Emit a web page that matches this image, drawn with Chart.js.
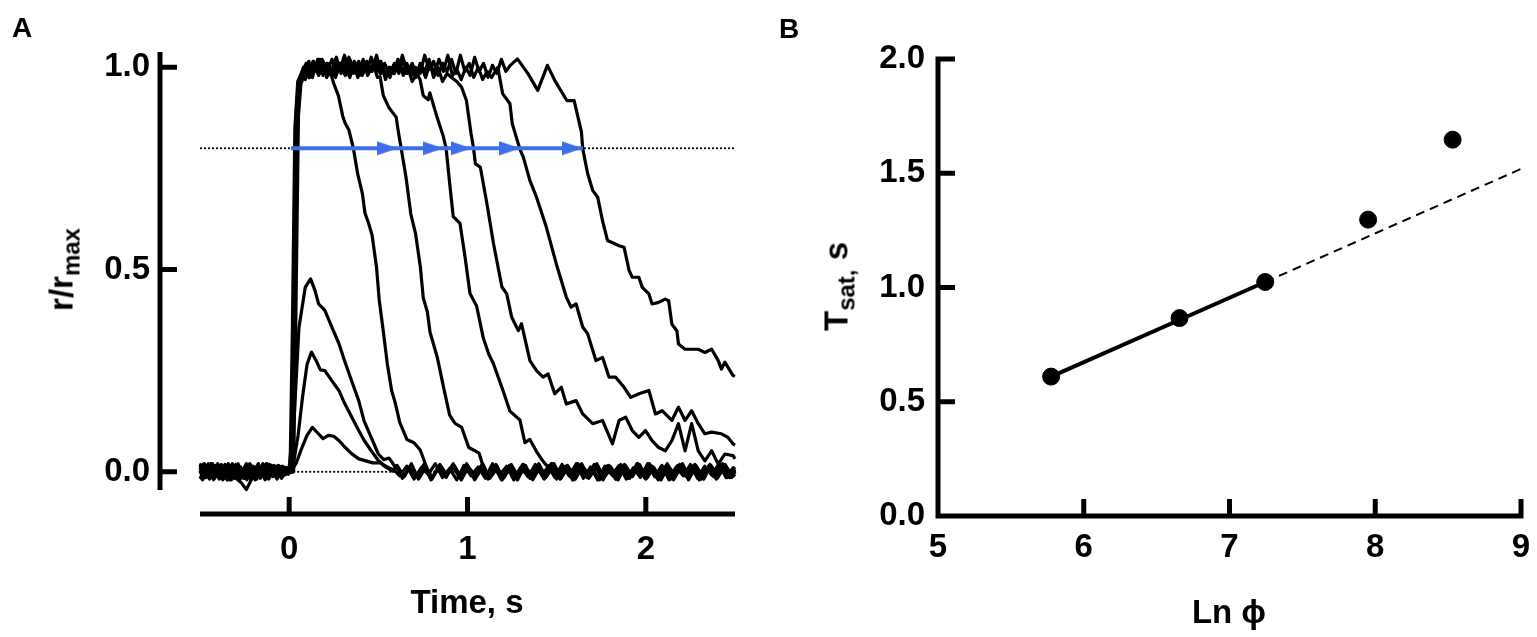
<!DOCTYPE html>
<html>
<head>
<meta charset="utf-8">
<title>Photoresponse saturation time</title>
<script src="https://cdn.jsdelivr.net/npm/chart.js@4.4.1/dist/chart.umd.min.js"></script>
<style>
  html, body { margin: 0; padding: 0; background: #fff; }
  body { position: relative; width: 1537px; height: 637px; overflow: hidden; }
  canvas { position: absolute; top: 0; }
  #chartA { left: 0; }
  #chartB { left: 768px; }
  .txt { position: absolute; font: bold 33px "Liberation Sans", Arial, sans-serif; line-height: 1; color: #000; white-space: nowrap; }
  .txt sub { font-size: 24px; vertical-align: -7px; line-height: 0; }
  .panel { font-size: 28px; }
  .center { width: 300px; text-align: center; }
  .rot { width: 200px; height: 33px; text-align: center; transform: rotate(-90deg); }
</style>
</head>
<body>
<canvas id="chartA" width="768" height="637"></canvas>
<canvas id="chartB" width="769" height="637"></canvas>
<div class="txt panel" style="left:12px;top:14px">A</div>
<div class="txt panel" style="left:779px;top:15px">B</div>
<div class="txt center" style="left:317px;top:585px">Time, s</div>
<div class="txt center" style="left:1079px;top:595px">Ln ϕ</div>
<div class="txt rot" style="left:-39px;top:253px">r/r<sub>max</sub></div>
<div class="txt rot" style="left:736px;top:270px">T<sub>sat,</sub> s</div>

<script>
// Panel A - normalised responses to flashes of increasing strength
const xRangeA = [-0.5, 2.5];
const yRangeA = [-0.045, 1.038];
const xTicksA = [0, 1, 2];
const yTicksA = [0, 0.5, 1];
const satLevel = 0.8;     // criterion level used for T_sat
const flashTime = 0.01;   // start of the blue arrows

// [time s, r/rmax]
const trace1 = [
  [-0.500,0.016],[-0.465,-0.014],[-0.430,0.020],[-0.395,-0.010],[-0.360,0.018],[-0.325,-0.020],[-0.290,0.008],
  [-0.255,-0.016],[-0.220,0.020],[-0.185,-0.008],[-0.150,0.014],[-0.115,-0.018],[-0.080,0.012],[-0.045,-0.014],[-0.010,0.006],
  [0.01,0.000],[0.04,0.022],[0.07,0.058],[0.10,0.090],[0.13,0.110],[0.16,0.096],[0.19,0.082],[0.22,0.090],
  [0.25,0.088],[0.28,0.077],[0.31,0.062],[0.35,0.045],[0.39,0.032],[0.43,0.027],[0.47,0.022],[0.51,0.022],
  [0.55,0.012],[0.59,0.004],
  [0.62,-0.010],[0.66,0.014],[0.70,-0.018],[0.74,0.010],[0.78,-0.006],[0.82,0.020],[0.86,-0.014],[0.90,0.008],
  [0.94,-0.020],[0.98,0.016],[1.02,-0.010],[1.06,0.012],[1.10,-0.016],[1.14,0.020],[1.18,-0.008],[1.22,0.014],
  [1.26,-0.020],[1.30,0.010],[1.34,-0.012],[1.38,0.018],[1.42,-0.006],[1.46,0.016],[1.50,-0.018],[1.54,0.012],
  [1.58,-0.014],[1.62,0.020],[1.66,-0.010],[1.70,0.008],[1.74,-0.020],[1.78,0.014],[1.82,-0.012],[1.86,0.018],
  [1.90,-0.016],[1.94,0.010],[1.98,-0.008],[2.02,0.020],[2.06,-0.014],[2.10,0.012],[2.14,-0.018],[2.18,0.016],
  [2.22,-0.010],[2.26,0.014],[2.30,-0.020],[2.34,0.008],[2.38,-0.012],[2.42,0.018],[2.46,-0.014],[2.50,0.006]
];
const trace2 = [
  [-0.500,0.004],[-0.488,-0.012],[-0.453,0.020],[-0.418,-0.016],[-0.383,0.014],[-0.348,-0.020],[-0.313,0.012],[-0.278,-0.022],
  [-0.243,0.016],[-0.208,-0.010],[-0.173,0.020],[-0.138,-0.014],[-0.103,0.012],[-0.068,-0.018],[-0.033,0.010],
  [0.02,0.010],[0.05,0.090],[0.075,0.185],[0.10,0.265],[0.125,0.296],[0.15,0.276],[0.175,0.252],[0.20,0.250],
  [0.24,0.225],[0.28,0.200],[0.31,0.170],[0.35,0.136],[0.39,0.102],[0.42,0.078],[0.46,0.052],[0.50,0.028],
  [0.54,0.012],[0.58,0.002],
  [0.605,0.016],[0.645,-0.012],[0.685,0.020],[0.725,-0.018],[0.765,0.010],[0.805,-0.014],[0.845,0.018],[0.885,-0.008],
  [0.925,0.014],[0.965,-0.020],[1.005,0.012],[1.045,-0.010],[1.085,0.020],[1.125,-0.016],[1.165,0.008],[1.205,-0.014],
  [1.245,0.018],[1.285,-0.012],[1.325,0.016],[1.365,-0.020],[1.405,0.010],[1.445,-0.008],[1.485,0.020],[1.525,-0.016],
  [1.565,0.012],[1.605,-0.018],[1.645,0.014],[1.685,-0.010],[1.725,0.020],[1.765,-0.014],[1.805,0.008],[1.845,-0.020],
  [1.885,0.016],[1.925,-0.012],[1.965,0.018],[2.005,-0.016],[2.045,0.010],[2.085,-0.020],[2.125,0.014],[2.165,-0.008],
  [2.205,0.020],[2.245,-0.014],[2.285,0.012],[2.325,-0.018],[2.365,0.016],[2.405,-0.010],[2.445,0.018],[2.485,-0.012],
  [2.50,0.000]
];
const trace3 = [
  [-0.500,0.010],[-0.477,0.020],[-0.442,-0.008],[-0.407,0.016],[-0.372,-0.020],[-0.337,0.010],[-0.302,-0.014],[-0.267,-0.028],
  [-0.240,-0.044],[-0.215,-0.022],[-0.197,0.008],[-0.162,-0.016],[-0.127,0.020],[-0.092,-0.012],[-0.057,0.014],[-0.022,-0.006],
  [0.00,0.010],[0.03,0.150],[0.055,0.357],[0.09,0.456],[0.12,0.477],[0.145,0.448],[0.165,0.415],[0.20,0.399],
  [0.24,0.357],[0.28,0.316],[0.31,0.275],[0.35,0.225],[0.39,0.176],[0.42,0.126],[0.46,0.085],[0.50,0.044],
  [0.53,0.030],[0.56,0.034],[0.59,0.015],[0.615,0.004],
  [0.635,-0.016],[0.675,0.010],[0.715,-0.012],[0.755,0.018],[0.795,-0.020],[0.835,0.012],[0.875,-0.008],[0.915,0.016],
  [0.955,-0.014],[0.995,0.020],[1.035,-0.010],[1.075,0.014],[1.115,-0.018],[1.155,0.008],[1.195,-0.020],[1.235,0.016],
  [1.275,-0.012],[1.315,0.018],[1.355,-0.016],[1.395,0.010],[1.435,-0.014],[1.475,0.020],[1.515,-0.008],[1.555,0.012],
  [1.595,-0.020],[1.635,0.016],[1.675,-0.010],[1.715,0.018],[1.755,-0.014],[1.795,0.012],[1.835,-0.018],[1.875,0.008],
  [1.915,-0.012],[1.955,0.020],[1.995,-0.016],[2.035,0.014],[2.075,-0.010],[2.115,0.016],[2.155,-0.020],[2.195,0.010],
  [2.235,-0.014],[2.275,0.018],[2.315,-0.012],[2.355,0.016],[2.395,-0.018],[2.435,0.010],[2.475,-0.008],[2.50,0.006]
];
const trace4 = [
  [-0.500,-0.016],[-0.459,0.012],[-0.424,-0.020],[-0.389,0.016],[-0.354,-0.010],[-0.319,0.020],[-0.284,-0.014],
  [-0.249,0.010],[-0.214,-0.020],[-0.179,0.016],[-0.144,-0.008],[-0.109,0.018],[-0.074,-0.012],[-0.039,0.014],[-0.004,-0.006],
  [0.005,0.000],[0.018,0.350],[0.032,0.850],[0.048,0.965],[0.07,0.985],[0.09,0.970],[0.11,1.000],[0.13,0.975],
  [0.15,1.005],[0.17,0.985],[0.19,1.010],[0.21,0.975],[0.23,0.990],[0.25,0.960],
  [0.276,0.930],[0.30,0.880],[0.314,0.862],[0.335,0.845],[0.36,0.800],[0.384,0.737],[0.411,0.687],[0.425,0.640],
  [0.445,0.615],[0.465,0.585],[0.49,0.505],[0.505,0.425],[0.53,0.340],[0.55,0.268],[0.575,0.200],[0.595,0.170],
  [0.62,0.122],[0.66,0.080],[0.70,0.072],[0.735,0.054],[0.77,0.012],
  [0.80,-0.018],[0.84,0.012],[0.88,-0.014],[0.92,0.020],[0.96,-0.010],[1.00,0.016],[1.04,-0.020],[1.08,0.008],
  [1.12,-0.012],[1.16,0.018],[1.20,-0.016],[1.24,0.010],[1.28,-0.020],[1.32,0.014],[1.36,-0.008],[1.40,0.020],
  [1.44,-0.014],[1.48,0.012],[1.52,-0.018],[1.56,0.016],[1.60,-0.010],[1.64,0.020],[1.68,-0.016],[1.72,0.010],
  [1.76,-0.020],[1.80,0.014],[1.84,-0.012],[1.88,0.018],[1.92,-0.008],[1.96,0.016],[2.00,-0.018],[2.04,0.012],
  [2.08,-0.014],[2.12,0.020],[2.16,-0.010],[2.20,0.012],[2.24,-0.020],[2.28,0.016],[2.32,-0.012],[2.36,0.018],
  [2.40,-0.016],[2.44,0.010],[2.48,-0.014],[2.50,-0.006]
];
const trace5 = [
  [-0.500,0.006],[-0.482,0.012],[-0.447,-0.018],[-0.412,0.016],[-0.377,-0.010],[-0.342,0.020],[-0.307,-0.016],[-0.272,0.012],
  [-0.237,-0.020],[-0.202,0.014],[-0.167,-0.012],[-0.132,0.018],[-0.097,-0.010],[-0.062,0.016],[-0.027,-0.008],
  [0.01,0.000],[0.024,0.400],[0.038,0.880],[0.054,0.970],[0.075,0.990],[0.095,1.010],[0.115,0.980],[0.135,1.015],
  [0.155,0.990],[0.175,1.020],[0.20,0.985],[0.22,1.005],[0.245,0.980],[0.27,1.015],[0.295,0.990],[0.32,1.020],
  [0.345,0.985],[0.37,1.010],[0.395,0.980],[0.42,1.005],[0.445,0.985],[0.47,1.010],[0.495,0.975],[0.51,0.977],
  [0.528,0.930],[0.56,0.900],[0.60,0.877],[0.614,0.836],[0.628,0.800],[0.655,0.729],[0.682,0.638],[0.709,0.588],
  [0.736,0.505],[0.752,0.430],[0.775,0.395],[0.79,0.345],[0.83,0.284],[0.87,0.200],[0.90,0.140],[0.93,0.120],
  [0.967,0.110],[1.007,0.060],[1.033,0.054],[1.065,0.046],[1.09,0.010],
  [1.11,-0.012],[1.15,0.016],[1.19,-0.020],[1.23,0.012],[1.27,-0.008],[1.31,0.018],[1.35,-0.016],[1.39,0.010],
  [1.43,-0.018],[1.47,0.020],[1.51,-0.012],[1.55,0.014],[1.59,-0.020],[1.63,0.008],[1.67,-0.014],[1.71,0.018],
  [1.75,-0.010],[1.79,0.016],[1.83,-0.018],[1.87,0.012],[1.91,-0.016],[1.95,0.020],[1.99,-0.008],[2.03,0.014],
  [2.07,-0.020],[2.11,0.010],[2.15,-0.014],[2.19,0.018],[2.23,-0.012],[2.27,0.016],[2.31,-0.018],[2.35,0.012],
  [2.39,-0.010],[2.43,0.020],[2.47,-0.014],[2.50,0.004]
];
const trace6 = [
  [-0.500,-0.004],[-0.471,0.018],[-0.436,-0.012],[-0.401,0.020],[-0.366,-0.016],[-0.331,0.008],[-0.296,0.016],[-0.261,-0.012],
  [-0.226,0.018],[-0.191,-0.020],[-0.156,0.010],[-0.121,-0.014],[-0.086,0.016],[-0.051,-0.010],[-0.016,0.008],
  [0.012,0.000],[0.028,0.500],[0.043,0.920],[0.06,0.975],[0.08,1.000],[0.10,0.980],[0.12,1.010],[0.14,0.990],
  [0.165,1.020],[0.19,0.980],[0.215,1.010],[0.24,0.990],[0.265,1.025],[0.29,0.985],[0.315,1.000],[0.34,0.975],
  [0.365,1.015],[0.39,0.990],[0.415,1.020],[0.44,0.980],[0.465,1.005],[0.49,0.990],[0.515,1.015],[0.54,0.970],
  [0.565,1.000],[0.59,0.985],[0.615,1.015],[0.64,0.980],[0.665,1.000],[0.69,0.965],[0.715,0.985],[0.734,0.970],
  [0.752,0.930],[0.78,0.920],[0.789,0.937],[0.827,0.880],[0.864,0.830],[0.88,0.800],[0.90,0.713],[0.92,0.631],
  [0.958,0.614],[0.986,0.532],[1.014,0.441],[1.051,0.410],[1.089,0.330],[1.12,0.290],[1.145,0.268],[1.20,0.200],
  [1.238,0.150],[1.294,0.128],[1.322,0.072],[1.35,0.080],[1.387,0.050],[1.425,0.025],[1.46,0.008],
  [1.49,-0.014],[1.53,0.018],[1.57,-0.010],[1.61,0.020],[1.65,-0.016],[1.69,0.012],[1.73,-0.020],[1.77,0.014],
  [1.81,-0.008],[1.85,0.016],[1.89,-0.018],[1.93,0.010],[1.97,-0.014],[2.01,0.020],[2.05,-0.012],[2.09,0.016],
  [2.13,-0.020],[2.17,0.012],[2.21,-0.010],[2.25,0.018],[2.29,-0.016],[2.33,0.014],[2.37,-0.008],[2.41,0.020],
  [2.45,-0.014],[2.49,0.010],[2.50,0.006]
];
const trace7 = [
  [-0.500,0.010],[-0.497,0.018],[-0.462,-0.010],[-0.427,0.014],[-0.392,-0.018],[-0.357,0.016],[-0.322,-0.008],[-0.287,0.020],
  [-0.252,-0.016],[-0.217,0.010],[-0.182,-0.018],[-0.147,0.020],[-0.112,-0.012],[-0.077,0.014],[-0.042,-0.016],[-0.007,0.010],
  [0.015,0.000],[0.03,0.450],[0.045,0.900],[0.06,0.970],[0.085,0.995],[0.11,0.975],[0.135,1.015],[0.16,0.990],
  [0.185,1.020],[0.21,0.985],[0.235,1.000],[0.26,0.975],[0.285,1.010],[0.31,0.990],[0.335,1.025],[0.36,0.985],
  [0.385,1.005],[0.41,0.980],[0.435,1.015],[0.46,0.990],[0.485,1.020],[0.51,0.985],[0.535,1.010],[0.56,0.980],
  [0.585,1.005],[0.61,0.990],[0.635,1.030],[0.66,0.985],[0.685,1.000],[0.71,0.975],[0.735,1.010],[0.76,0.990],
  [0.785,1.020],[0.81,0.975],[0.835,1.000],[0.86,0.965],[0.885,0.985],[0.91,0.975],[0.94,0.965],
  [0.967,0.951],[0.994,0.918],[1.02,0.836],[1.034,0.800],[1.044,0.762],[1.072,0.753],[1.109,0.663],[1.146,0.564],
  [1.193,0.457],[1.22,0.440],[1.248,0.382],[1.285,0.349],[1.303,0.366],[1.35,0.275],[1.387,0.250],[1.424,0.234],
  [1.452,0.242],[1.489,0.193],[1.526,0.209],[1.554,0.168],[1.609,0.176],[1.646,0.143],[1.702,0.119],[1.757,0.127],
  [1.813,0.069],[1.85,0.127],[1.887,0.135],[1.924,0.102],[1.961,0.085],[1.998,0.102],[2.035,0.077],[2.072,0.060],
  [2.109,0.052],[2.146,0.077],[2.183,0.119],[2.22,0.052],[2.257,0.119],[2.294,0.052],[2.331,0.027],[2.369,0.052],
  [2.406,0.019],[2.443,0.044],[2.489,0.040],[2.50,0.032]
];
const trace8 = [
  [-0.500,-0.012],[-0.485,-0.020],[-0.450,0.014],[-0.415,-0.008],[-0.380,0.018],[-0.345,-0.020],[-0.310,0.012],[-0.275,-0.010],
  [-0.240,0.020],[-0.205,-0.016],[-0.170,0.010],[-0.135,-0.020],[-0.100,0.016],[-0.065,-0.006],[-0.030,0.012],
  [0.02,0.000],[0.034,0.420],[0.048,0.890],[0.062,0.965],[0.085,0.990],[0.11,1.015],[0.135,0.985],[0.16,1.020],
  [0.185,0.990],[0.21,1.010],[0.235,0.980],[0.26,1.020],[0.285,0.995],[0.31,1.030],[0.335,0.990],[0.36,1.010],
  [0.385,0.975],[0.41,1.005],[0.435,0.990],[0.46,1.025],[0.485,0.995],[0.51,1.015],[0.535,0.980],[0.56,1.000],
  [0.585,0.985],[0.61,1.020],[0.635,0.990],[0.66,1.010],[0.685,0.980],[0.71,1.000],[0.735,0.985],[0.76,1.030],
  [0.785,0.995],[0.81,1.015],[0.835,0.980],[0.86,1.010],[0.885,0.990],[0.91,1.020],[0.935,0.985],[0.96,1.030],
  [0.985,0.990],[1.01,1.010],[1.035,0.975],[1.06,1.000],[1.085,0.970],[1.11,0.990],[1.135,0.975],[1.17,1.000],
  [1.197,0.935],[1.238,0.910],[1.251,0.861],[1.292,0.800],[1.313,0.778],[1.35,0.720],[1.387,0.679],[1.442,0.605],
  [1.498,0.514],[1.554,0.432],[1.581,0.407],[1.609,0.415],[1.646,0.358],[1.674,0.341],[1.72,0.275],[1.757,0.283],
  [1.794,0.234],[1.831,0.234],[1.878,0.209],[1.915,0.184],[1.961,0.193],[2.017,0.201],[2.054,0.143],[2.091,0.151],
  [2.146,0.127],[2.183,0.160],[2.22,0.127],[2.257,0.151],[2.294,0.119],[2.331,0.094],[2.369,0.098],[2.424,0.094],
  [2.461,0.085],[2.489,0.069],[2.50,0.066]
];
const trace9 = [
  [-0.500,0.010],[-0.474,-0.014],[-0.439,0.020],[-0.404,-0.012],[-0.369,0.010],[-0.334,-0.020],[-0.299,0.018],[-0.264,-0.008],
  [-0.229,0.016],[-0.194,-0.014],[-0.159,0.008],[-0.124,0.020],[-0.089,-0.010],[-0.054,0.014],[-0.019,-0.004],
  [0.025,0.000],[0.038,0.400],[0.052,0.880],[0.066,0.960],[0.09,0.985],[0.115,0.975],[0.14,1.005],[0.165,0.980],
  [0.19,1.015],[0.215,0.990],[0.24,1.020],[0.265,0.985],[0.29,1.000],[0.315,0.980],[0.34,1.020],[0.365,0.995],
  [0.39,1.015],[0.415,0.985],[0.44,1.010],[0.465,0.990],[0.49,1.030],[0.515,0.985],[0.54,1.005],[0.565,0.975],
  [0.59,1.010],[0.615,0.985],[0.64,1.020],[0.665,0.990],[0.69,1.010],[0.715,0.980],[0.74,1.005],[0.765,0.975],
  [0.79,1.010],[0.815,0.985],[0.84,1.020],[0.865,0.990],[0.89,1.030],[0.915,0.980],[0.94,0.995],[0.965,0.970],
  [0.99,1.000],[1.015,0.980],[1.04,1.025],[1.065,0.990],[1.09,1.010],[1.115,0.975],[1.14,1.005],[1.165,0.985],
  [1.19,1.020],[1.215,0.990],[1.24,1.005],[1.28,1.021],[1.34,0.984],[1.394,0.943],[1.448,1.005],[1.489,0.968],
  [1.557,0.918],[1.598,0.918],[1.639,0.840],[1.646,0.799],[1.674,0.737],[1.702,0.696],[1.730,0.679],[1.757,0.621],
  [1.785,0.572],[1.850,0.559],[1.878,0.555],[1.906,0.498],[1.924,0.481],[1.961,0.481],[1.980,0.456],[2.017,0.440],
  [2.035,0.415],[2.072,0.419],[2.109,0.427],[2.128,0.423],[2.146,0.365],[2.174,0.349],[2.183,0.316],[2.220,0.303],
  [2.294,0.303],[2.331,0.295],[2.369,0.303],[2.406,0.275],[2.424,0.254],[2.443,0.271],[2.489,0.238],[2.50,0.236]
];
const traces = [trace1, trace2, trace3, trace4, trace5, trace6, trace7, trace8, trace9];

// Panel B - time in saturation against ln of flash strength
const lnPhi = [5.776, 6.657, 7.245, 7.951, 8.531];
const tSat = [0.610, 0.866, 1.024, 1.297, 1.647];
const fitLnPhi = [5.776, 7.245, 9.0];
const fitTsat = [0.610, 1.024, 1.519];
const xTicksB = [5, 6, 7, 8, 9];
const yTicksB = [0, 0.5, 1, 1.5, 2];

const BLUE = '#3f6fe8';
const tickFont = { family: '"Liberation Sans", Arial, sans-serif', size: 33, weight: 'bold' };

Chart.defaults.animation = false;
Chart.defaults.font.family = tickFont.family;

// axis lines + inward ticks, optionally pushed away from the plot (Prism style)
const offsetAxes = {
  id: 'offsetAxes',
  afterDraw(chart, args, opts) {
    const { ctx, chartArea: a, scales: { x, y } } = chart;
    const ax = a.left - opts.gapY;
    const ay = a.bottom + opts.gapX;
    const ext = opts.corner ? opts.width / 2 : 0;
    ctx.save();
    ctx.strokeStyle = '#000';
    ctx.lineWidth = opts.width;
    ctx.lineCap = 'butt';
    ctx.beginPath();
    ctx.moveTo(ax, a.top - ext);
    ctx.lineTo(ax, a.bottom + ext);
    ctx.moveTo(a.left - ext, ay);
    ctx.lineTo(a.right + ext, ay);
    y.ticks.forEach(t => {
      const py = y.getPixelForValue(t.value);
      ctx.moveTo(ax, py);
      ctx.lineTo(ax + opts.tick, py);
    });
    x.ticks.forEach(t => {
      const px = x.getPixelForValue(t.value);
      ctx.moveTo(px, ay);
      ctx.lineTo(px, ay - opts.tick);
    });
    ctx.stroke();
    ctx.restore();
  }
};

// right-pointing arrowhead, tip at the centre of the image
const arrowHead = document.createElement('canvas');
arrowHead.width = 42;
arrowHead.height = 15;
(function () {
  const c = arrowHead.getContext('2d');
  c.fillStyle = BLUE;
  c.beginPath();
  c.moveTo(0, 0.5);
  c.lineTo(21, 7.5);
  c.lineTo(0, 14.5);
  c.closePath();
  c.fill();
})();

function axisOpts(range, ticks, fmt, pad, size, horizontal) {
  return {
    type: 'linear',
    min: range[0],
    max: range[1],
    afterBuildTicks: s => { s.ticks = ticks.map(v => ({ value: v })); },
    afterFit: s => {
      // fixed box sizes; label padding must not push the plot area around
      if (horizontal) { s.height = size; s.paddingLeft = 0; s.paddingRight = 0; }
      else { s.width = size; s.paddingTop = 0; s.paddingBottom = 0; }
    },
    ticks: { font: tickFont, color: '#000', padding: pad, callback: fmt },
    grid: { display: false, drawTicks: false },
    border: { display: false }
  };
}

const pts = arr => arr.map(([t, r]) => ({ x: t, y: r }));

new Chart(document.getElementById('chartA'), {
  type: 'line',
  data: {
    datasets: [
      ...traces.map(tr => ({
        data: pts(tr),
        borderColor: '#000',
        borderWidth: 3.2,
        borderJoinStyle: 'round',
        pointRadius: 0,
        tension: 0,
        clip: false,
        order: 5
      })),
      {
        data: [{ x: xRangeA[0], y: satLevel }, { x: xRangeA[1], y: satLevel }],
        borderColor: '#000', borderWidth: 1.8, borderDash: [2, 2], pointRadius: 0, order: 9
      },
      {
        data: [{ x: 0, y: 0 }, { x: xRangeA[1], y: 0 }],
        borderColor: '#000', borderWidth: 1.8, borderDash: [2, 2], pointRadius: 0, order: 9
      },
      {
        data: [{ x: flashTime, y: satLevel }, { x: Math.max(...tSat), y: satLevel }],
        borderColor: BLUE, borderWidth: 4, pointRadius: 0, order: 2
      },
      {
        data: tSat.map(t => ({ x: t, y: satLevel })),
        showLine: false, pointStyle: arrowHead, pointRadius: 8, order: 1
      }
    ]
  },
  options: {
    responsive: false,
    layout: { padding: { left: 0, right: 33, top: 52, bottom: 0 } },
    plugins: {
      legend: { display: false },
      tooltip: { enabled: false },
      offsetAxes: { gapX: 24, gapY: 40, width: 5, tick: 17, corner: false }
    },
    scales: {
      x: axisOpts(xRangeA, xTicksA, v => String(v), 40, 147, true),
      y: axisOpts(yRangeA, yTicksA, v => v.toFixed(1), 50, 200, false)
    }
  },
  plugins: [offsetAxes]
});

new Chart(document.getElementById('chartB'), {
  type: 'scatter',
  data: {
    datasets: [
      {
        data: lnPhi.map((v, i) => ({ x: v, y: tSat[i] })),
        backgroundColor: '#000', borderColor: '#000', pointRadius: 8.5, order: 1
      },
      {
        data: [{ x: fitLnPhi[0], y: fitTsat[0] }, { x: fitLnPhi[1], y: fitTsat[1] }],
        showLine: true, borderColor: '#000', borderWidth: 4, pointRadius: 0, order: 2
      },
      {
        data: [{ x: fitLnPhi[1], y: fitTsat[1] }, { x: fitLnPhi[2], y: fitTsat[2] }],
        showLine: true, borderColor: '#000', borderWidth: 2, borderDash: [9, 6], pointRadius: 0, order: 2
      }
    ]
  },
  options: {
    responsive: false,
    layout: { padding: { left: 0, right: 16, top: 59, bottom: 0 } },
    plugins: {
      legend: { display: false },
      tooltip: { enabled: false },
      offsetAxes: { gapX: 0, gapY: 0, width: 5, tick: 17, corner: true }
    },
    scales: {
      x: axisOpts([5, 9], xTicksB, v => String(v), 12, 121, true),
      y: axisOpts([0, 2], yTicksB, v => v.toFixed(1), 13, 170, false)
    }
  },
  plugins: [offsetAxes]
});
</script>
</body>
</html>
